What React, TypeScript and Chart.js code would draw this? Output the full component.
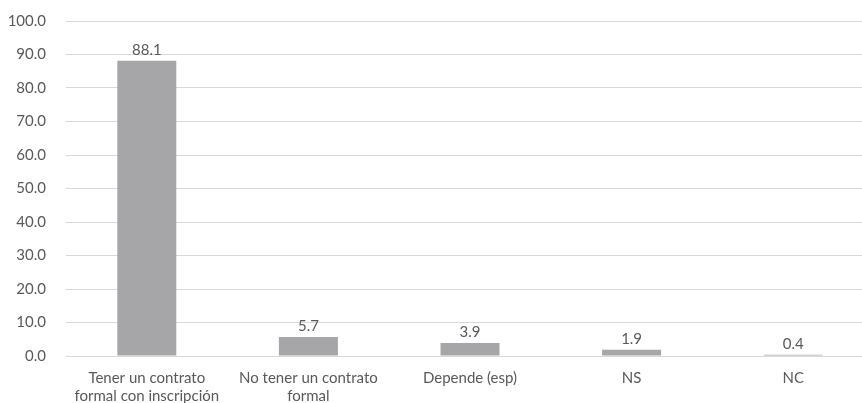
import React, { useEffect, useRef } from "react";
import { Chart, registerables } from "chart.js";

Chart.register(...registerables);

const categories: (string | string[])[] = [
  ["Tener un contrato", "formal con inscripción"],
  ["No tener un contrato", "formal"],
  "Depende (esp)",
  "NS",
  "NC",
];
const values: number[] = [88.1, 5.7, 3.9, 1.9, 0.4];
const yMin = 0;
const yMax = 100;
const yStep = 10;

const TEXT = "#595959";
const BAR = "#a6a6a9";
const GRID = "#d9d9d9";
const FONT = "Lato";
const FS = 15;

const valueLabels = {
  id: "valueLabels",
  afterDatasetsDraw(chart: any) {
    const ctx = chart.ctx;
    const meta = chart.getDatasetMeta(0);
    ctx.save();
    ctx.font = `${FS}px ${FONT}`;
    ctx.fillStyle = TEXT;
    ctx.textAlign = "center";
    ctx.textBaseline = "alphabetic";
    meta.data.forEach((el: any, i: number) => {
      const v = chart.data.datasets[0].data[i] as number;
      ctx.fillText(v.toFixed(1), el.x, el.y - 5.5);
    });
    ctx.restore();
  },
};

export default function App() {
  const ref = useRef<HTMLCanvasElement | null>(null);
  useEffect(() => {
    if (!ref.current) return;
    const chart = new Chart(ref.current, {
      type: "bar",
      data: {
        labels: categories,
        datasets: [
          {
            data: values,
            backgroundColor: BAR,
            borderWidth: 0,
            barPercentage: 0.365,
            categoryPercentage: 1,
          },
        ],
      },
      options: {
        responsive: false,
        animation: false,
        layout: { padding: { top: 21, right: 6, left: 0, bottom: 0 } },
        plugins: { legend: { display: false }, tooltip: { enabled: false } },
        scales: {
          x: {
            grid: { display: false, drawTicks: false },
            border: { display: false },
            ticks: {
              color: TEXT,
              font: { family: FONT, size: FS, lineHeight: 1.15 },
              maxRotation: 0,
              minRotation: 0,
              autoSkip: false,
              padding: 14,
            },
            afterFit: (s: any) => {
              s.height = 47;
            },
          },
          y: {
            min: yMin,
            max: yMax,
            grid: {
              color: GRID,
              lineWidth: 1,
              drawTicks: true,
              tickLength: 17,
              tickColor: "rgba(0,0,0,0)",
            },
            border: { display: false },
            ticks: {
              stepSize: yStep,
              color: TEXT,
              font: { family: FONT, size: FS },
              padding: 3,
              callback: (v: any) => Number(v).toFixed(1),
            },
            afterFit: (s: any) => {
              s.width = 66;
            },
          },
        },
      },
      plugins: [valueLabels],
    });
    return () => chart.destroy();
  }, []);
  return (
    <div
      style={{
        position: "fixed",
        left: 0,
        top: 0,
        width: 862,
        height: 403,
        overflow: "hidden",
        background: "#fff",
      }}
    >
      <canvas ref={ref} width={880} height={403} style={{ display: "block" }} />
    </div>
  );
}
